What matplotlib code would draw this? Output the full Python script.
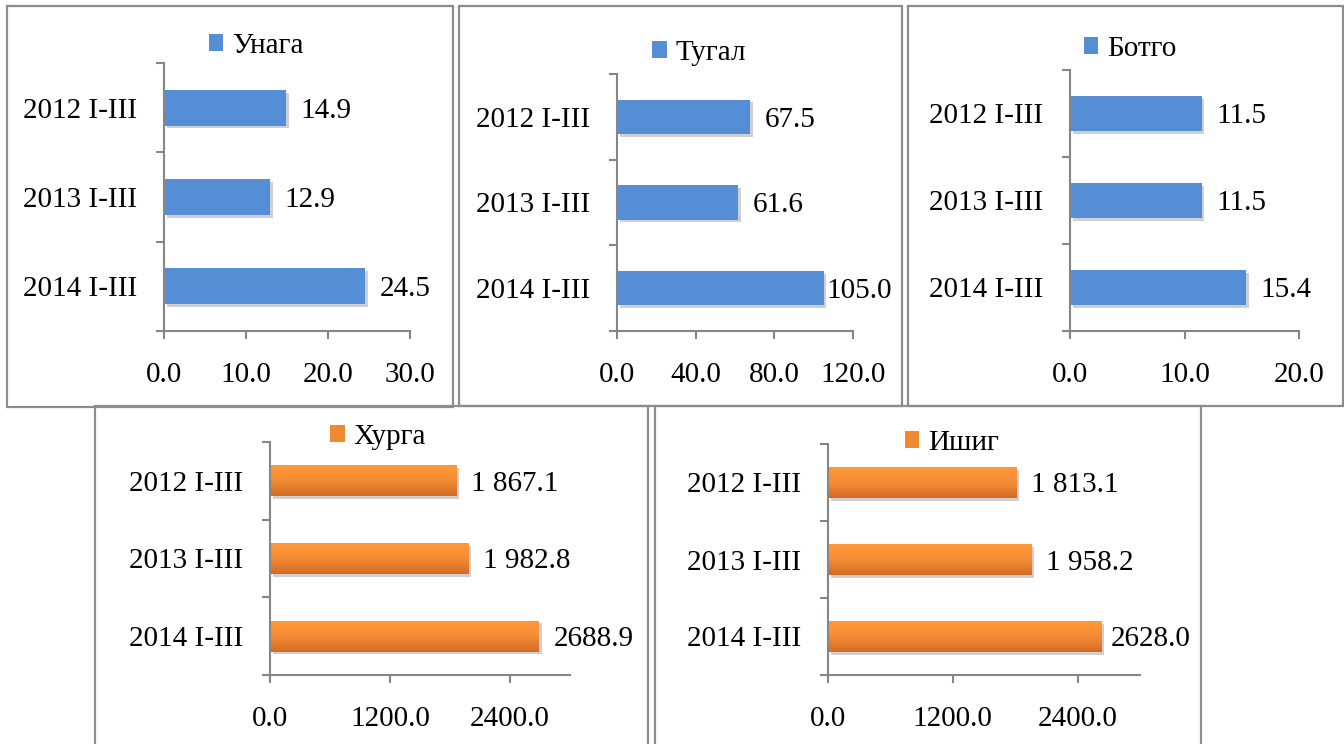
import matplotlib.pyplot as plt
import matplotlib.patheffects as pe
import numpy as np
from matplotlib.colors import LinearSegmentedColormap
from matplotlib.patches import Rectangle

plt.rcParams['font.family'] = ['Liberation Serif', 'DejaVu Serif']

periods = ["2012 I-III", "2013 I-III", "2014 I-III"]

# values per animal
unaga = [14.9, 12.9, 24.5]
tugal = [67.5, 61.6, 105.0]
botgo = [11.5, 11.5, 15.4]
hurga = [1867.1, 1982.8, 2688.9]
ishig = [1813.1, 1958.2, 2628.0]

unaga_lbl = ["14.9", "12.9", "24.5"]
tugal_lbl = ["67.5", "61.6", "105.0"]
botgo_lbl = ["11.5", "11.5", "15.4"]
hurga_lbl = ["1 867.1", "1 982.8", "2688.9"]
ishig_lbl = ["1 813.1", "1 958.2", "2628.0"]

unaga_ticks = [0, 10, 20, 30]
tugal_ticks = [0, 40, 80, 120]
botgo_ticks = [0, 10, 20]
big_ticks = [0, 1200, 2400]

W, H = 1344, 744
BLUE = '#558ED5'
GREY = '#868686'
FS = 21
orange_cm = LinearSegmentedColormap.from_list('org', ['#FF9A3A', '#F58C35', '#D26C22'])


def frac(l, t, r, b):
    return [l / W, 1 - b / H, (r - l) / W, (b - t) / H]


fig = plt.figure(figsize=(W / 100, H / 100), dpi=100)
fig.patch.set_facecolor('white')

# name, values, labels, ticks, xmax, axes px, box px, legend centre px, orange?
panels = [
    ("Унага", unaga, unaga_lbl, unaga_ticks, 30, (164, 63, 410, 331), (7, 6, 453, 407), (256, 46), False),
    ("Тугал", tugal, tugal_lbl, tugal_ticks, 120, (617, 74, 853, 331), (459, 6, 902, 406), (699, 53), False),
    ("Ботго", botgo, botgo_lbl, botgo_ticks, 20, (1070, 70, 1299, 331), (908, 6, 1343, 406), (1130, 49), False),
    ("Хурга", hurga, hurga_lbl, big_ticks, 3000, (270, 442, 570, 675), (95, 406, 648, 770), (378, 437), True),
    ("Ишиг", ishig, ishig_lbl, big_ticks, 3000, (828, 444, 1140, 675), (655, 406, 1201, 770), (952, 443), True),
]

value_texts = []
for name, vals, lbls, ticks, xmax, axpx, boxpx, legpx, is_orange in panels:
    l, t, r, b = boxpx
    fig.add_artist(Rectangle((l / W, 1 - b / H), (r - l) / W, (b - t) / H,
                             transform=fig.transFigure, fill=False,
                             edgecolor='#8c8c8c', lw=1.6))

    ax = fig.add_axes(frac(*axpx))
    ax.patch.set_alpha(0)
    pos = np.arange(len(periods))
    face = '#F08A30' if is_orange else BLUE
    bars = ax.barh(pos, vals, height=0.4, color=face, zorder=2,
                   path_effects=[pe.SimplePatchShadow(offset=(2, -2), shadow_rgbFace='#777777', alpha=0.35),
                                 pe.Normal()])
    if is_orange:
        grad = np.linspace(0, 1, 64).reshape(-1, 1)
        for bar in bars:
            x0, y0 = bar.get_x(), bar.get_y()
            im = ax.imshow(grad, extent=(x0, x0 + bar.get_width(), y0 + bar.get_height(), y0),
                           cmap=orange_cm, aspect='auto', zorder=2.5, interpolation='bicubic')
            im.set_clip_path(bar)

    ax.set_xlim(0, xmax)
    ax.set_ylim(len(periods) - 0.5, -0.5)

    for s in ['top', 'right']:
        ax.spines[s].set_visible(False)
    for s in ['left', 'bottom']:
        ax.spines[s].set_color(GREY)
        ax.spines[s].set_linewidth(1.5)

    ax.set_xticks(ticks)
    ax.set_xticklabels([f"{v:.1f}" for v in ticks], fontsize=FS)
    ax.tick_params(axis='x', direction='out', length=6, width=1.5, color=GREY, pad=16.5)

    ax.set_yticks(pos)
    ax.set_yticklabels(periods, fontsize=FS)
    ax.tick_params(axis='y', which='major', length=0, pad=19)
    ax.set_yticks(np.arange(len(periods) + 1) - 0.5, minor=True)
    ax.tick_params(axis='y', which='minor', direction='out', length=6, width=1.5, color=GREY)

    for v, i, s in zip(vals, pos, lbls):
        tx = ax.annotate(s, (v, i), xytext=(10.5, 0), textcoords='offset points',
                         va='center_baseline', ha='left', fontsize=FS, zorder=3)
        value_texts.append((tx, r))

    handle = Rectangle((0, 0), 1, 1, facecolor=face)
    ax.legend([handle], [name], loc='center', bbox_to_anchor=(legpx[0] / W, 1 - legpx[1] / H),
              bbox_transform=fig.transFigure, frameon=False, fontsize=FS,
              handlelength=0.5, handleheight=0.5, handletextpad=0.3, borderpad=0)

# keep labels inside their panel frame
fig.canvas.draw()
rend = fig.canvas.get_renderer()
for tx, right in value_texts:
    ext = tx.get_window_extent(rend)
    over = ext.x1 - (right - 10)
    if over > 0:
        ox, oy = tx.xyann
        tx.xyann = (ox - over * 0.72, oy)

fig.savefig('out.png', dpi=100)
